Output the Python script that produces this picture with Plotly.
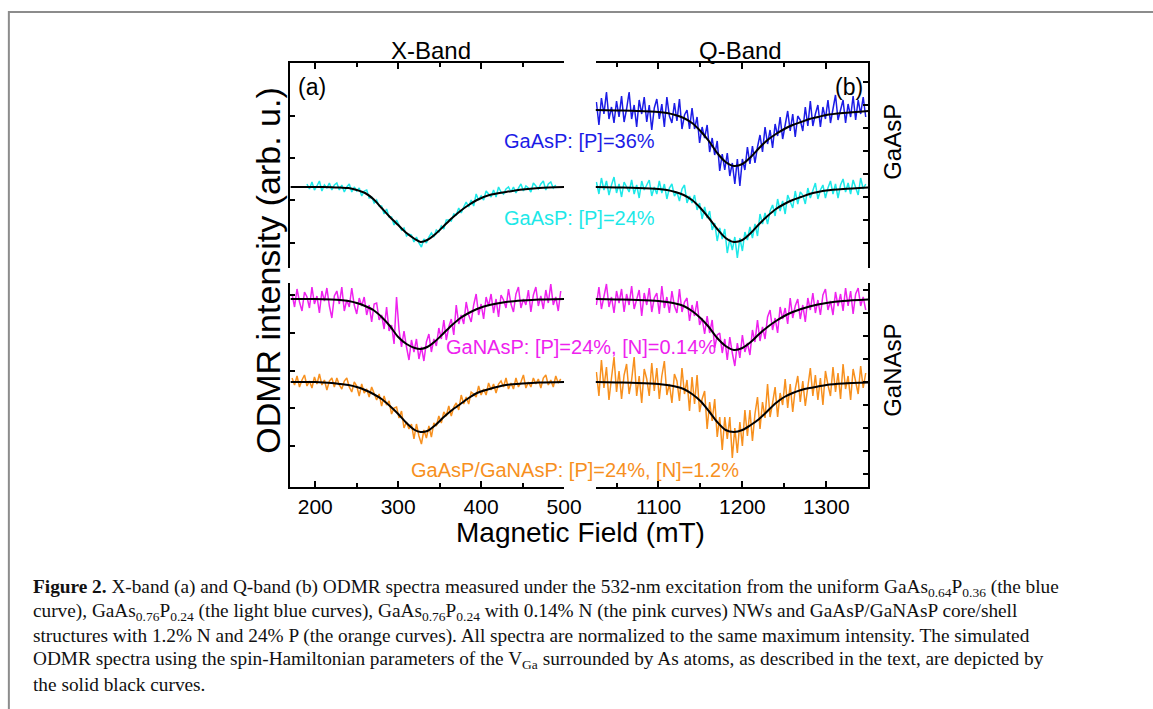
import plotly.graph_objects as go

W, H = 1153, 709


def px(x):
    return x / W


def py(y):
    return 1 - y / H


# ---------------- data ----------------
# field grids (mT)
X_FIELD_CYAN = list(range(190, 491, 3))
X_FIELD = list(range(172, 498, 3))
Q_FIELD = list(range(1026, 1348, 3))

# spectra relative to their own baseline (arb. u.)
X_CYAN = [3, -2, 5, -3, 1, 6, -4, 2, -1, 4,
          -3, 2, 4, -3, 2, -5, 0, 3, -5, 0,
          -4, -1, -9, -4, -3, -11, -10, -16, -13, -19,
          -19, -27, -22, -30, -30, -38, -33, -38, -43, -41,
          -49, -47, -48, -55, -50, -56, -60, -52, -56, -50,
          -46, -50, -43, -45, -39, -42, -33, -33, -34, -27,
          -28, -21, -26, -20, -15, -20, -13, -19, -7, -13,
          -9, -13, -4, -7, -10, -3, -10, 0, -5, -7,
          -2, 0, -5, 0, -6, -1, 3, -4, 1, -1,
          -5, 4, 1, -2, 3, 6, -3, 3, 5, -1,
          2]
X_PINK = [5, -8, 10, -3, -12, 7, 2, -9, 12, -5,
          3, -14, 8, -2, 11, -7, -19, 3, 8, -5,
          12, -12, -1, -8, 11, -6, -15, 1, -7, 2,
          -16, -6, -23, -5, -4, -21, -16, -30, -8, -32,
          -26, -45, 2, -31, -48, -32, -48, -61, -41, -53,
          -40, -60, -48, -62, -43, -35, -53, -40, -47, -29,
          -40, -21, -41, -28, -20, -36, -6, -25, -16, -25,
          -3, -16, -23, -6, 5, -16, -5, -20, 2, -7,
          5, -14, 0, -18, 4, -1, -9, 10, -5, -13,
          5, 12, -9, 0, -6, 9, -13, 4, 12, -7,
          3, -10, 9, -4, 15, -6, 2, -12, 8]
X_ORANGE = [4, -3, 6, -5, 2, 7, -4, 1, -6, 5,
            -2, 8, -3, 2, -8, 1, 4, -5, 4, -3,
            -7, 1, 4, -5, -10, 0, -4, -14, -2, -11,
            -7, -15, -5, -11, -18, -12, -24, -14, -23, -19,
            -32, -26, -25, -36, -29, -46, -40, -47, -42, -57,
            -42, -54, -62, -48, -56, -44, -55, -41, -44, -34,
            -41, -30, -34, -24, -34, -25, -21, -28, -13, -22,
            -15, -22, -10, -12, -15, -4, -13, -7, -13, -1,
            -8, -2, -11, -2, 1, -5, 4, -7, -1, -7,
            4, -5, 0, 7, -6, 0, -5, 4, -2, 3,
            -6, 4, 7, -3, 2, -5, 6, -1, 3]

Q_BLUE = [8, -15, 12, -4, 18, -9, 3, -13, 9, -7,
          14, -12, 1, 18, -9, 5, -17, 10, -4, 13,
          -12, 5, -20, 2, 11, -9, 6, -17, 13, -6,
          -13, 7, -11, 11, -19, -5, 0, -19, 2, -19,
          -7, -33, -17, -28, -15, -42, -28, -45, -31, -61,
          -44, -60, -43, -66, -53, -74, -49, -76, -49, -60,
          -37, -54, -36, -53, -37, -25, -42, -17, -34, -20,
          -38, -14, -26, -7, -29, -13, -1, -21, -4, -27,
          -6, -10, -21, 3, -16, 9, -16, -4, 5, -17,
          3, -9, 10, -13, 2, 15, -10, 0, 10, -13,
          6, -7, 14, -10, 10, -4, 13, -7]
Q_CYAN = [5, -7, 9, -3, 6, -8, 2, 10, -6, 3,
          -10, 5, 0, -5, 7, -7, 2, -11, 6, -3,
          2, 7, -9, 0, -7, 6, -6, 3, -12, -1,
          3, -9, -5, -14, -2, 2, -16, -9, -16, -8,
          -23, -16, -32, -20, -31, -24, -43, -36, -54, -41,
          -52, -42, -66, -52, -63, -50, -71, -51, -64, -45,
          -53, -40, -51, -37, -49, -27, -37, -26, -37, -24,
          -18, -29, -12, -24, -14, -27, -8, -14, -21, -4,
          -17, -5, -8, -17, -1, -11, -3, 4, -12, -3,
          2, -11, -1, 6, -7, 3, -11, 2, 8, -5,
          4, -7, 7, 0, -8, 9, -2, 3]
Q_PINK = [-6, 12, -10, 4, 15, -8, 2, -14, 8, -4,
          10, -13, 5, -6, 13, -10, 0, 9, -17, 6,
          -6, 11, -13, 1, 6, -15, 13, -9, 2, -14,
          8, -7, -14, 10, -13, -3, 1, -22, -6, -17,
          -2, -26, -19, -35, -17, -34, -21, -49, -36, -34,
          -54, -40, -61, -38, -54, -67, -44, -59, -36, -53,
          -44, -56, -31, -43, -21, -42, -28, -40, -18, -11,
          -31, -19, -34, -8, -20, -9, -25, 1, -19, -7,
          0, -20, -6, -23, 1, -11, 6, -14, -1, -16,
          4, 10, -11, -2, -16, 7, -7, 5, -12, 11,
          -7, 8, -15, 5, 11, -7, 2, -11]
Q_ORANGE = [10, -14, 22, -6, 15, -18, 4, 25, -10, 11,
            -17, 7, 18, -12, 2, 25, -14, 6, -21, 13,
            3, -14, 19, -9, 14, -17, 6, 21, -13, -2,
            -21, 8, 1, -19, 14, -12, 2, -29, 5, -22,
            7, -30, -17, -9, -47, -20, -39, -17, -55, -35,
            -68, -35, -57, -35, -76, -46, -71, -40, -64, -28,
            -54, -28, -59, -32, -15, -47, -20, -36, -2, -35,
            -21, -5, -35, -11, -23, 3, -26, -2, -30, -7,
            6, -20, 1, -24, -5, 14, -14, 7, -18, 4,
            -23, 11, -3, -14, 15, -10, 9, -17, 18, -7,
            6, -18, 13, -1, -12, 16, -6, 9]

# simulated spectra (black curves)
FIT_X_FIELD = [170, 200, 220, 230, 240, 250, 260, 270, 280, 290, 300, 310, 320,
               327, 335, 345, 355, 365, 375, 385, 395, 410, 430, 450, 470, 500]
FIT_X_CYAN = [0, 0, -0.3, -0.6, -1, -3, -6, -12, -21, -30, -38, -46, -52,
              -55, -53, -47, -39, -31, -24, -18, -13, -8, -5, -2.5, -1, 0]
FIT_X_PINK = [0, 0, -0.5, -1, -2, -4, -7, -11, -18, -27, -38, -45, -49,
              -50, -48, -42, -34, -26, -19, -14, -10, -6, -3, -1.5, -0.5, 0]
FIT_X_ORANGE = [0, 0, -1, -2, -3, -5, -8, -12, -17, -24, -32, -41, -48,
                -50, -49, -43, -35, -28, -22, -16, -11, -7, -3, -1.5, -0.5, 0]

FIT_Q_FIELD = [1025, 1050, 1075, 1100, 1110, 1120, 1130, 1140, 1150, 1160, 1170, 1180, 1190,
               1200, 1210, 1220, 1230, 1240, 1250, 1260, 1270, 1280, 1290, 1300, 1320, 1350]
FIT_Q_BLUE = [0, -0.5, -1, -2, -3, -5, -8, -13, -21, -31, -43, -52, -56,
              -54, -47, -38, -30, -24, -19, -15, -12, -9, -7, -5, -3, -1]
FIT_Q_CYAN = [0, -0.5, -1, -2, -3, -5, -8, -13, -21, -31, -42, -51, -55,
              -53, -46, -37, -29, -22, -17, -13, -10, -7, -5, -3.5, -2, -0.5]
FIT_Q_PINK = [0, -0.5, -1, -2, -3, -4.5, -7, -12, -19, -28, -39, -47, -51,
              -49, -43, -35, -28, -22, -17, -13, -10, -7.5, -5.5, -4, -2, -0.5]
FIT_Q_ORANGE = [0, -0.5, -1, -2, -3, -4.5, -7, -12, -19, -29, -40, -48, -50,
                -48, -43, -37, -29, -21, -15, -11, -8, -6, -4.5, -3, -1.5, -0.5]

# vertical stacking offsets of each spectrum
OFF_BLUE, OFF_CYAN = 158, 81      # upper (GaAsP) block
OFF_PINK, OFF_ORANGE = 188, 105   # lower (GaNAsP) block

LABELS = {
    "blue": "GaAsP: [P]=36%",
    "cyan": "GaAsP: [P]=24%",
    "pink": "GaNAsP: [P]=24%, [N]=0.14%",
    "orange": "GaAsP/GaNAsP: [P]=24%, [N]=1.2%",
}
COL = {"blue": "#1c1ce6", "cyan": "#1de8e8", "pink": "#ee22ee", "orange": "#f7901e"}

X_TICKS = [200, 300, 400, 500]
X_MINOR = [250, 350, 450]
Q_TICKS = [1100, 1200, 1300]
Q_MINOR = [1050, 1150, 1250]
YT_UL = [152, 110, 68, 25]
YT_LL = [192, 154, 116, 79, 41]
YT_UR = [186, 163, 140, 117, 94, 71, 48, 25]
YT_LR = [197, 174, 151, 128, 105, 82, 59, 36, 13]

# ---------------- figure ----------------
FONT = "Liberation Sans, Arial, sans-serif"
fig = go.Figure()


def shift(vals, off):
    return [v + off for v in vals]


def add_noisy(x, y, off, color, xa, ya):
    fig.add_trace(go.Scatter(x=x, y=shift(y, off), mode="lines",
                             line=dict(color=color, width=1.5),
                             xaxis=xa, yaxis=ya, showlegend=False, hoverinfo="skip"))


def add_fit(x, y, off, xa, ya):
    fig.add_trace(go.Scatter(x=x, y=shift(y, off), mode="lines",
                             line=dict(color="black", width=2, shape="spline", smoothing=0.8),
                             xaxis=xa, yaxis=ya, showlegend=False, hoverinfo="skip"))


# axes: x/y lower-left, x2/y2 lower-right, x3/y3 upper-left, x4/y4 upper-right
add_noisy(X_FIELD_CYAN, X_CYAN, OFF_CYAN, COL["cyan"], "x3", "y3")
add_fit(FIT_X_FIELD, FIT_X_CYAN, OFF_CYAN, "x3", "y3")
add_noisy(Q_FIELD, Q_BLUE, OFF_BLUE, COL["blue"], "x4", "y4")
add_fit(FIT_Q_FIELD, FIT_Q_BLUE, OFF_BLUE, "x4", "y4")
add_noisy(Q_FIELD, Q_CYAN, OFF_CYAN, COL["cyan"], "x4", "y4")
add_fit(FIT_Q_FIELD, FIT_Q_CYAN, OFF_CYAN, "x4", "y4")

add_noisy(X_FIELD, X_PINK, OFF_PINK, COL["pink"], "x", "y")
add_fit(FIT_X_FIELD, FIT_X_PINK, OFF_PINK, "x", "y")
add_noisy(X_FIELD, X_ORANGE, OFF_ORANGE, COL["orange"], "x", "y")
add_fit(FIT_X_FIELD, FIT_X_ORANGE, OFF_ORANGE, "x", "y")
add_noisy(Q_FIELD, Q_PINK, OFF_PINK, COL["pink"], "x2", "y2")
add_fit(FIT_Q_FIELD, FIT_Q_PINK, OFF_PINK, "x2", "y2")
add_noisy(Q_FIELD, Q_ORANGE, OFF_ORANGE, COL["orange"], "x2", "y2")
add_fit(FIT_Q_FIELD, FIT_Q_ORANGE, OFF_ORANGE, "x2", "y2")

COLA = [px(295), px(573)]
COLB = [px(605), px(882)]
ROW_TOP = [py(268), py(63)]
ROW_BOT = [py(487), py(283)]

base_ax = dict(showline=True, linecolor="black", linewidth=2, ticks="inside",
               tickcolor="black", tickwidth=1.5, ticklen=6, showgrid=False,
               zeroline=False, mirror=False, fixedrange=True)


def xax(domain, rng, tickv, minor, anchor, side, labels):
    d = dict(base_ax)
    d.update(domain=domain, range=rng, tickmode="array", tickvals=tickv,
             anchor=anchor, side=side, showticklabels=labels,
             tickfont=dict(family=FONT, size=21, color="black"),
             minor=dict(tickmode="array", tickvals=minor, ticks="inside",
                        ticklen=4, tickcolor="black", tickwidth=1.5, showgrid=False))
    return d


def yax(domain, rng, tickv, anchor, side):
    d = dict(base_ax)
    d.update(domain=domain, range=rng, tickmode="array", tickvals=tickv,
             anchor=anchor, side=side, showticklabels=False, ticklen=5)
    return d


fig.update_layout(
    width=W, height=H, autosize=False,
    margin=dict(l=0, r=0, t=0, b=0),
    paper_bgcolor="white", plot_bgcolor="rgba(0,0,0,0)",
    xaxis=xax(COLA, [170, 500], X_TICKS, X_MINOR, "y", "bottom", True),
    yaxis=yax(ROW_BOT, [0, 204], YT_LL, "x", "left"),
    xaxis2=xax(COLB, [1025, 1350], Q_TICKS, Q_MINOR, "y2", "bottom", True),
    yaxis2=yax(ROW_BOT, [0, 204], YT_LR, "x2", "right"),
    xaxis3=xax(COLA, [170, 500], X_TICKS, X_MINOR, "y3", "top", False),
    yaxis3=yax(ROW_TOP, [0, 205], YT_UL, "x3", "left"),
    xaxis4=xax(COLB, [1025, 1350], Q_TICKS, Q_MINOR, "y4", "top", False),
    yaxis4=yax(ROW_TOP, [0, 205], YT_UR, "x4", "right"),
)


def ann(text, x, y, size, color="black", angle=0, xanchor="center", family=FONT):
    fig.add_annotation(text=text, x=px(x), y=py(y), xref="paper", yref="paper",
                       showarrow=False, xanchor=xanchor, yanchor="middle",
                       textangle=angle, font=dict(family=family, size=size, color=color))


ann("X-Band", 438, 50, 24)
ann("Q-Band", 752, 50, 24)
ann("(a)", 317, 87, 23)
ann("(b)", 862, 87, 23)
ann("GaAsP", 906, 142, 24, angle=-90)
ann("GaNAsP", 906, 370, 24, angle=-90)
ann("ODMR intensity (arb. u.)", 272, 270, 34, angle=-90)
ann("Magnetic Field (mT)", 590, 532, 28)
ann(LABELS["blue"], 589, 141, 20, COL["blue"])
ann(LABELS["cyan"], 589, 218, 20, COL["cyan"])
ann(LABELS["pink"], 590, 347, 20, COL["pink"])
ann(LABELS["orange"], 584, 470, 20, COL["orange"])

SERIF = "Liberation Serif, Times New Roman, serif"
CAPTION = [
    "<b>Figure 2.</b> X-band (a) and Q-band (b) ODMR spectra measured under the 532-nm excitation from the uniform GaAs<sub>0.64</sub>P<sub>0.36</sub> (the blue",
    "curve), GaAs<sub>0.76</sub>P<sub>0.24</sub> (the light blue curves), GaAs<sub>0.76</sub>P<sub>0.24</sub> with 0.14% N (the pink curves) NWs and GaAsP/GaNAsP core/shell",
    "structures with 1.2% N and 24% P (the orange curves). All spectra are normalized to the same maximum intensity. The simulated",
    "ODMR spectra using the spin-Hamiltonian parameters of the V<sub>Ga</sub> surrounded by As atoms, as described in the text, are depicted by",
    "the solid black curves.",
]
for i, line in enumerate(CAPTION):
    ann(line, 31, 588 + 24 * i, 19.3, "#111111", xanchor="left", family=SERIF)

fig.add_shape(type="rect", xref="paper", yref="paper",
              x0=px(9), y0=py(12), x1=1.05, y1=-0.05,
              line=dict(color="#8c8c8c", width=2))

fig.write_html("out.html",
               config={"displayModeBar": False},
               post_script="document.body.style.margin='0px';"
                           "document.body.style.overflow='hidden';")
